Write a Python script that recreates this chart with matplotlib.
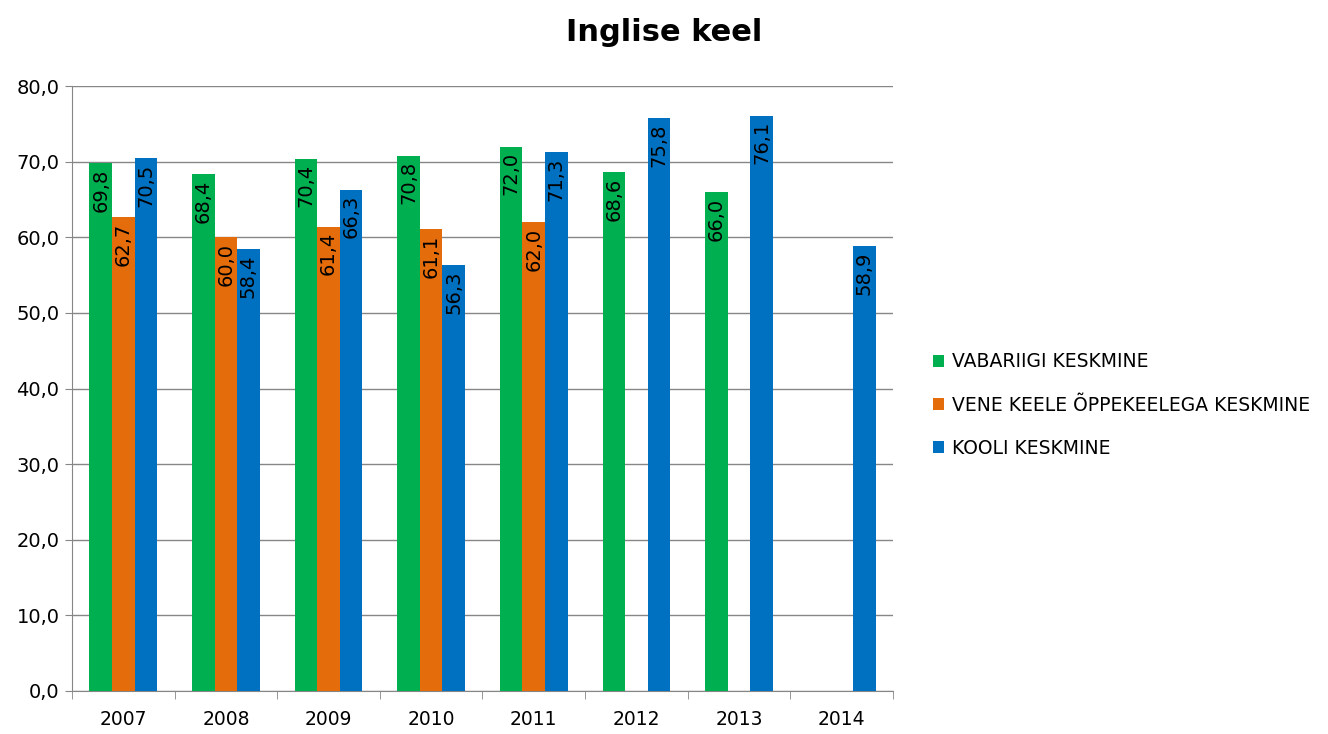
import numpy as np
import matplotlib.pyplot as plt

years = ['2007', '2008', '2009', '2010', '2011', '2012', '2013', '2014']
vabariigi = [69.8, 68.4, 70.4, 70.8, 72.0, 68.6, 66.0, np.nan]
vene = [62.7, 60.0, 61.4, 61.1, 62.0, np.nan, np.nan, np.nan]
kooli = [70.5, 58.4, 66.3, 56.3, 71.3, 75.8, 76.1, 58.9]

series_names = ['VABARIIGI KESKMINE', 'VENE KEELE ÕPPEKEELEGA KESKMINE', 'KOOLI KESKMINE']
colors = ['#00B050', '#E46C0A', '#0070C0']

fig = plt.figure(figsize=(13.28, 7.34), dpi=100)
ax = fig.add_axes([0.0542, 0.0586, 0.6182, 0.8242])

x = np.arange(len(years))
w = 0.22
for i, (vals, name, c) in enumerate(zip([vabariigi, vene, kooli], series_names, colors)):
    pos = x + (i - 1) * w
    ax.bar(pos, vals, width=w, color=c, label=name, zorder=3)
    for xp, v in zip(pos, vals):
        if np.isnan(v):
            continue
        ax.annotate(f'{v:.1f}'.replace('.', ','), (xp, v), xytext=(0, -4),
                    textcoords='offset points', rotation=90,
                    ha='center', va='top', fontsize=14, color='black', zorder=4)

ax.set_xlim(-0.5, len(years) - 0.5)
ax.set_ylim(0, 80)
ax.set_yticks(np.arange(0, 81, 10))
ax.set_yticklabels([f'{t:.1f}'.replace('.', ',') for t in np.arange(0, 81, 10)], fontsize=14)
ax.set_xticks(x)
ax.set_xticklabels(years, fontsize=13.5)
ax.set_xticks(np.arange(-0.5, len(years)), minor=True)
ax.tick_params(axis='x', which='major', length=0, pad=14)
ax.tick_params(axis='x', which='minor', length=6, color='#868686')
ax.tick_params(axis='y', length=5, color='#868686', pad=4)
ax.grid(axis='y', color='#868686', linewidth=1, zorder=0)
for s in ['top', 'right']:
    ax.spines[s].set_visible(False)
for s in ['left', 'bottom']:
    ax.spines[s].set_color('#868686')

fig.suptitle('Inglise keel', x=0.5, y=0.975, fontsize=22, fontweight='bold')

fig.legend(loc='center left', bbox_to_anchor=(0.69, 0.448), frameon=False,
           fontsize=13.5, handlelength=0.6, handleheight=0.6, labelspacing=1.3,
           handletextpad=0.4)

fig.savefig('out.png', dpi=100)
